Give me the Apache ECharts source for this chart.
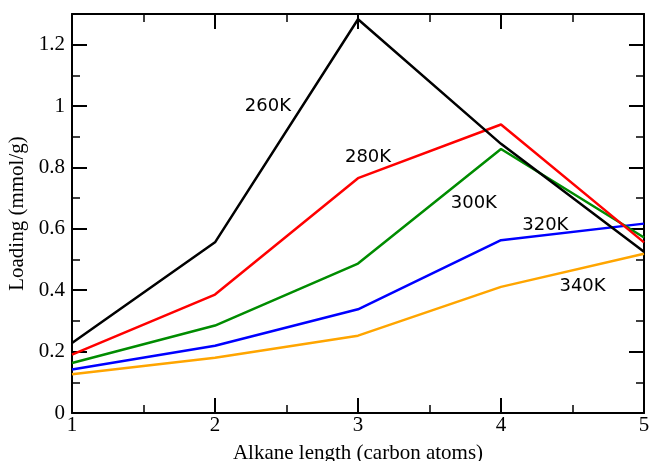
<!DOCTYPE html>
<html>
<head>
<meta charset="utf-8">
<script src="https://cdn.jsdelivr.net/npm/echarts@6/dist/echarts.min.js"></script>
<style>html,body{margin:0;padding:0;background:#fff}#c{width:651px;height:461px}</style>
</head>
<body>
<div id="c"></div>
<script>
const categories = [1, 2, 3, 4, 5];
const seriesNames = ['260K', '280K', '300K', '320K', '340K'];
const s260 = [0.228, 0.556, 1.283, 0.877, 0.525];
const s280 = [0.190, 0.386, 0.765, 0.940, 0.556];
const s300 = [0.163, 0.285, 0.487, 0.860, 0.572];
const s320 = [0.142, 0.219, 0.338, 0.563, 0.617];
const s340 = [0.126, 0.180, 0.252, 0.411, 0.519];
const labelPos = [[2.37, 1.0], [3.07, 0.833], [3.81, 0.683], [4.31, 0.613], [4.57, 0.412]];
const yTicks = [0, 0.2, 0.4, 0.6, 0.8, 1, 1.2];

const colors = ['#000000', '#ff0000', '#008c00', '#0000ff', '#ffa500'];
const values = [s260, s280, s300, s320, s340];

const chart = echarts.init(document.getElementById('c'), null, {renderer: 'canvas'});
const serif = 'Liberation Serif, Times New Roman, serif';
function axisCommon(extra) {
  return Object.assign({
    axisLine: {show: true, onZero: false, lineStyle: {color: '#000', width: 2}},
    axisTick: {show: true, inside: true, length: 15, lineStyle: {color: '#000', width: 2}},
    minorTick: {show: true, splitNumber: 2, length: 8, lineStyle: {color: '#000', width: 1.5}},
    splitLine: {show: false}
  }, extra);
}
const series = seriesNames.map((n, i) => ({
  name: n,
  type: 'line',
  xAxisIndex: 0, yAxisIndex: 0,
  data: categories.map((c, j) => [c, values[i][j]]),
  symbol: 'none',
  lineStyle: {color: colors[i], width: 2.5},
  itemStyle: {color: colors[i]},
  z: 10 - i,
  markPoint: {
    symbol: 'circle', symbolSize: 0,
    data: [{coord: labelPos[i], value: n}],
    label: {show: true, position: 'inside', formatter: n, color: '#000',
      fontFamily: 'DejaVu Sans', fontSize: 18}
  }
}));
chart.setOption({
  animation: false,
  grid: {left: 72, right: 7, top: 14, bottom: 48, containLabel: false, outerBoundsMode: 'none'},
  xAxis: [
    axisCommon({
      type: 'value', min: 1, max: 5, interval: 1, position: 'bottom',
      name: 'Alkane length (carbon atoms)', nameLocation: 'middle', nameGap: 30,
      nameTextStyle: {fontFamily: serif, fontSize: 21, color: '#000'},
      axisLabel: {show: true, margin: 2, fontFamily: serif, fontSize: 21, color: '#000', verticalAlign: 'top'}
    }),
    axisCommon({
      type: 'value', min: 1, max: 5, interval: 1, position: 'top',
      axisLabel: {show: false}
    })
  ],
  yAxis: [
    axisCommon({
      type: 'value', min: 0, max: 1.3, interval: 0.2, position: 'left',
      name: 'Loading (mmol/g)', nameLocation: 'middle', nameGap: 41,
      nameTextStyle: {fontFamily: serif, fontSize: 21, color: '#000'},
      axisLabel: {show: true, margin: 7, fontFamily: serif, fontSize: 21, color: '#000',
        formatter: v => yTicks.some(t => Math.abs(t - v) < 1e-9) ? String(+v.toFixed(1)) : ''}
    }),
    axisCommon({
      type: 'value', min: 0, max: 1.3, interval: 0.2, position: 'right',
      axisLabel: {show: false}
    })
  ],
  series: series
});
</script>
</body>
</html>
